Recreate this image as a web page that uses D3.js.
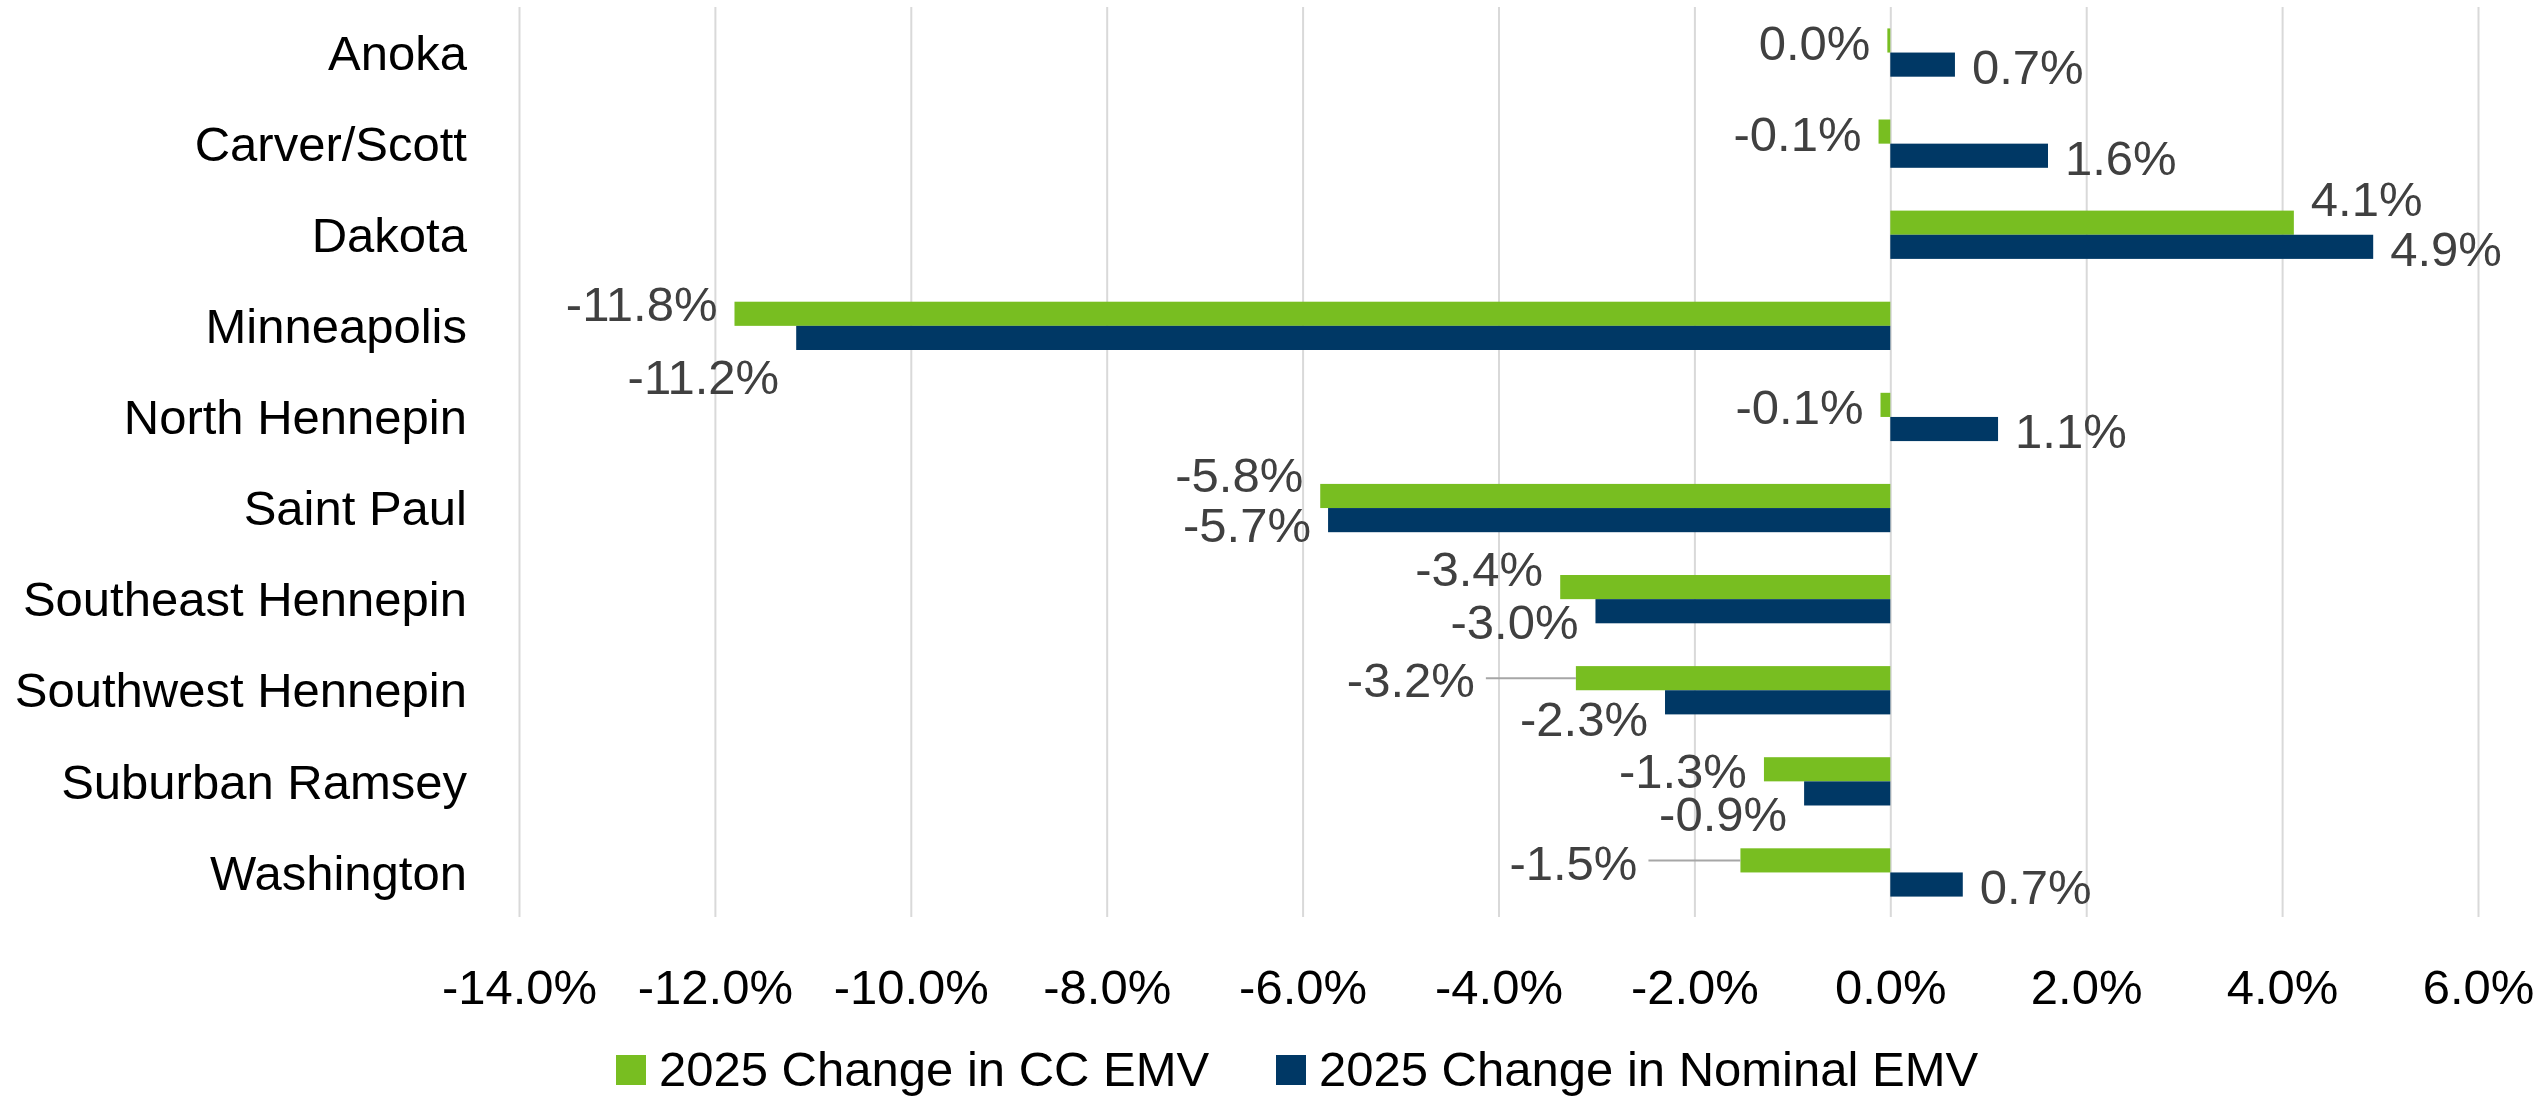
<!DOCTYPE html>
<html>
<head>
<meta charset="utf-8">
<script src="https://cdn.jsdelivr.net/npm/d3@7"></script>
<style>
  body { margin: 0; background: #ffffff; }
  text { font-family: "Liberation Sans", Arial, sans-serif; }
</style>
</head>
<body>
<script>
//chart data
var categories = ["Anoka", "Carver/Scott", "Dakota", "Minneapolis", "North Hennepin",
                  "Saint Paul", "Southeast Hennepin", "Southwest Hennepin", "Suburban Ramsey", "Washington"];
var ccValues      = [-0.03, -0.12, 4.12, -11.80, -0.10, -5.82, -3.37, -3.21, -1.29, -1.53];
var nominalValues = [0.66, 1.61, 4.93, -11.17, 1.10, -5.74, -3.01, -2.30, -0.88, 0.74];
var seriesNames = ["2025 Change in CC EMV", "2025 Change in Nominal EMV"];
var xTicks = [-14, -12, -10, -8, -6, -4, -2, 0, 2, 4, 6];

//label nudges [dx, dy] where labels were dragged off the default spot
var ccShift      = [[0,0],[0,0],[0,-26],[0,-12],[0,0],[0,-23],[0,-20],[-84,0],[0,0],[-86,0]];
var nominalShift = [[0,0],[0,0],[0,0],[0,37],[0,0],[0,3],[0,9],[0,15],[0,18],[0,0]];

var colors = ["#78be21", "#003865"];
var W = 2542, H = 1099;
var fontSize = 49;

//scales
var xScale = d3.scaleLinear( )
               .domain([-14, 6])
               .range([519, 2478]);

var yScale = d3.scaleBand( )
               .domain(categories)
               .range([7, 918])
               .paddingInner(0.47)
               .paddingOuter(0.235);

var subScale = d3.scaleBand( )
                 .domain([0, 1])
                 .range([0, yScale.bandwidth( )]);

var fmt = function(v){
    var s = v.toFixed(1);
    if (s === "-0.0") s = "0.0";
    return s + "%";
};

var _svg = d3.select("body")
             .append("svg")
             .attr("width", W)
             .attr("height", H);

//vertical gridlines
var xAxis = d3.axisBottom( )
              .scale(xScale)
              .tickValues(xTicks)
              .tickSize(-(917 - 7))
              .tickSizeOuter(0)
              .tickFormat(function(d){ return d.toFixed(1) + "%"; });

var _gx = _svg.append("g")
              .attr("transform", "translate(0,917)")
              .call(xAxis);

    _gx.select(".domain").remove( );
    _gx.selectAll(".tick line")
       .attr("stroke", "#d9d9d9")
       .attr("stroke-width", 2);
    _gx.selectAll(".tick text")
       .attr("fill", "#000000")
       .style("font-size", fontSize + "px")
       .attr("dy", "0.35em")
       .attr("y", 70);

//category labels
var yAxis = d3.axisLeft( )
              .scale(yScale)
              .tickSize(0)
              .tickPadding(0);

var _gy = _svg.append("g")
              .attr("transform", "translate(467,0)")
              .call(yAxis);

    _gy.select(".domain").remove( );
    _gy.selectAll(".tick text")
       .attr("fill", "#000000")
       .attr("dy", "0.35em")
       .style("font-size", fontSize + "px");

//bars
var series = [ccValues, nominalValues];
var shifts = [ccShift, nominalShift];

var _g1 = _svg.append("g");

series.forEach(function(vals, s){
    _g1.append("g")
       .selectAll("rect")
       .data(vals)
       .enter( )
       .append("rect")
       .attr("x", function(d){ return Math.min(xScale(0), xScale(d)); })
       .attr("y", function(d, i){ return yScale(categories[i]) + subScale(s); })
       .attr("width", function(d){ return Math.abs(xScale(d) - xScale(0)); })
       .attr("height", subScale.bandwidth( ))
       .attr("fill", colors[s]);
});

//data labels (and leader lines for the dragged ones)
series.forEach(function(vals, s){
    vals.forEach(function(d, i){
        var end = xScale(d);
        var cy = yScale(categories[i]) + subScale(s) + subScale.bandwidth( ) / 2;
        var sh = shifts[s][i];
        var neg = d < 0;
        var lx = (neg ? end - 17 : end + 17) + sh[0];
        var ly = cy + 2 + sh[1];

        if (sh[0] !== 0) {
            _g1.append("line")
               .attr("x1", lx + 11)
               .attr("x2", end)
               .attr("y1", cy)
               .attr("y2", cy)
               .attr("stroke", "#a6a6a6")
               .attr("stroke-width", 2);
        }

        _g1.append("text")
           .attr("x", lx)
           .attr("y", ly)
           .attr("dy", "0.35em")
           .attr("text-anchor", neg ? "end" : "start")
           .attr("fill", "#404040")
           .style("font-size", fontSize + "px")
           .text(fmt(d));
    });
});

//legend
var legendX = [616, 1276];
var _gl = _svg.append("g");

    _gl.selectAll("rect")
       .data(seriesNames)
       .enter( )
       .append("rect")
       .attr("x", function(d, i){ return legendX[i]; })
       .attr("y", 1055)
       .attr("width", 30)
       .attr("height", 30)
       .attr("fill", function(d, i){ return colors[i]; });

    _gl.selectAll("text")
       .data(seriesNames)
       .enter( )
       .append("text")
       .attr("x", function(d, i){ return legendX[i] + 43; })
       .attr("y", 1069)
       .attr("dy", "0.35em")
       .attr("fill", "#000000")
       .style("font-size", fontSize + "px")
       .text(function(d){ return d; });
</script>
</body>
</html>
